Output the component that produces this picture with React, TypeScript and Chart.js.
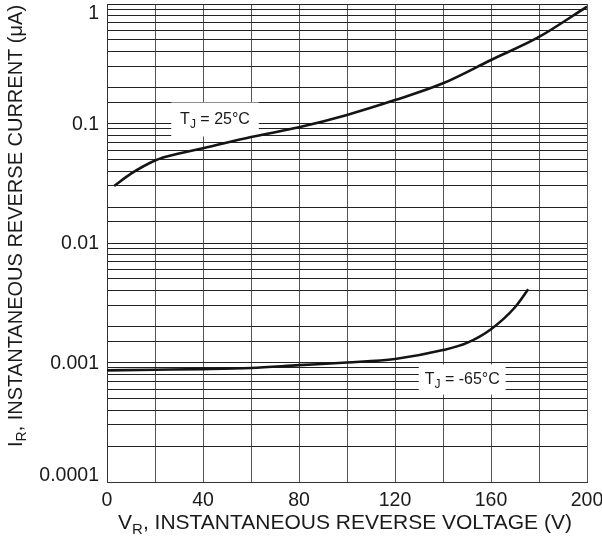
import { useEffect, useRef } from "react";
import { Chart, registerables } from "chart.js";

Chart.register(...registerables);

// ---- Data ----
const voltage25 = [3, 10, 20, 25, 30, 40, 60, 80, 100, 120, 140, 160, 180, 200];
const current25 = [0.03, 0.038, 0.049, 0.053, 0.056, 0.062, 0.077, 0.093, 0.118, 0.157, 0.217, 0.34, 0.53, 0.95];

const voltageM65 = [0, 20, 40, 60, 80, 100, 120, 140, 150, 160, 170, 175.5];
const currentM65 = [0.00086, 0.00087, 0.00088, 0.0009, 0.00095, 0.001, 0.00107, 0.00127, 0.00146, 0.0019, 0.0029, 0.0041];

const xTickLabels = ["0", "40", "80", "120", "160", "200"];
const xTickValues = [0, 40, 80, 120, 160, 200];
const yTickLabels = ["0.0001", "0.001", "0.01", "0.1", "1"];
const yTickValues = [0.0001, 0.001, 0.01, 0.1, 1];

const xTitle = { main: "V", sub: "R", rest: ", INSTANTANEOUS REVERSE VOLTAGE (V)" };
const yTitle = { main: "I", sub: "R", rest: ", INSTANTANEOUS REVERSE CURRENT (\u03bcA)" };

const curveLabels = [
  { main: "T", sub: "J", rest: " = 25\u00b0C", x: 45, y: 0.108 },
  { main: "T", sub: "J", rest: " = -65\u00b0C", x: 148, y: 0.00072 },
];

const FONT = "'Liberation Sans', Arial, Helvetica, sans-serif";
const TEXT = "#1a1a1a";

function drawSubText(ctx: CanvasRenderingContext2D, x: number, y: number, t: { main: string; sub: string; rest: string }, size: number, align: "left" | "center") {
  const big = `${size}px ${FONT}`;
  const small = `${Math.round(size * 0.72)}px ${FONT}`;
  ctx.font = big;
  const w1 = ctx.measureText(t.main).width;
  const w3 = ctx.measureText(t.rest).width;
  ctx.font = small;
  const w2 = ctx.measureText(t.sub).width;
  const total = w1 + w2 + w3;
  const sx = align === "center" ? x - total / 2 : x;
  ctx.textAlign = "left";
  ctx.textBaseline = "middle";
  ctx.font = big;
  ctx.fillText(t.main, sx, y);
  ctx.font = small;
  ctx.fillText(t.sub, sx + w1, y + size * 0.32);
  ctx.font = big;
  ctx.fillText(t.rest, sx + w1 + w2, y);
  return total;
}

const decorPlugin = {
  id: "decor",
  beforeDatasetsDraw(chart: any) {
    const ctx: CanvasRenderingContext2D = chart.ctx;
    const xs = chart.scales.x;
    const ys = chart.scales.y;
    ctx.save();
    curveLabels.forEach((lab, i) => {
      const px = xs.getPixelForValue(lab.x);
      const py = ys.getPixelForValue(lab.y);
      const size = 16;
      ctx.font = `${size}px ${FONT}`;
      const w = ctx.measureText(lab.main + lab.rest).width + ctx.measureText(lab.sub).width * 0.72;
      const bw = w + (i === 0 ? 18 : 12);
      const bh = i === 0 ? 34 : 30;
      ctx.fillStyle = "#ffffff";
      ctx.fillRect(px - bw / 2, py - bh / 2, bw, bh);
      ctx.fillStyle = TEXT;
      drawSubText(ctx, px, py, lab, size, "center");
    });
    ctx.restore();
  },
  afterDraw(chart: any) {
    const ctx: CanvasRenderingContext2D = chart.ctx;
    const area = chart.chartArea;
    const ys = chart.scales.y;
    ctx.save();
    ctx.fillStyle = TEXT;
    // y tick labels (kept inside the plot's vertical span like the reference)
    ctx.font = `19.5px ${FONT}`;
    ctx.textAlign = "right";
    ctx.textBaseline = "middle";
    yTickValues.forEach((v, i) => {
      let py = ys.getPixelForValue(v);
      py = Math.min(Math.max(py, area.top + 9), area.bottom - 7);
      ctx.fillText(yTickLabels[i], area.left - 8, py + 1);
    });
    // x title
    drawSubText(ctx, 345, 523, xTitle, 21, "center");
    // y title
    ctx.translate(16, 447);
    ctx.rotate(-Math.PI / 2);
    drawSubText(ctx, 0, 0, yTitle, 20, "left");
    ctx.restore();
  },
};

export default function App() {
  const ref = useRef<HTMLCanvasElement | null>(null);
  useEffect(() => {
    if (!ref.current) return;
    const chart = new Chart(ref.current, {
      type: "line",
      data: {
        datasets: [
          {
            label: "TJ = 25°C",
            data: voltage25.map((v, i) => ({ x: v, y: current25[i] })),
            borderColor: "#141414",
            borderWidth: 2.6,
            pointRadius: 0,
            cubicInterpolationMode: "monotone",
            fill: false,
          },
          {
            label: "TJ = -65°C",
            data: voltageM65.map((v, i) => ({ x: v, y: currentM65[i] })),
            borderColor: "#141414",
            borderWidth: 2.6,
            pointRadius: 0,
            cubicInterpolationMode: "monotone",
            fill: false,
          },
        ],
      },
      options: {
        animation: false,
        responsive: false,
        maintainAspectRatio: false,
        events: [],
        layout: { padding: { left: 0, right: 15, top: 4, bottom: 0 } },
        plugins: { legend: { display: false }, tooltip: { enabled: false }, title: { display: false } },
        scales: {
          x: {
            type: "linear",
            min: 0,
            max: 200,
            border: { display: true, color: "#333", width: 1 },
            grid: { color: "#555", lineWidth: 1, drawTicks: false },
            ticks: {
              stepSize: 20,
              autoSkip: false,
              maxRotation: 0,
              padding: 7,
              color: TEXT,
              font: { family: FONT, size: 19.5 },
              callback: (v: any) => {
                const idx = xTickValues.indexOf(Number(v));
                return idx >= 0 ? xTickLabels[idx] : "";
              },
            },
            afterFit: (s: any) => {
              s.height = 60;
              s.paddingLeft = 0;
              s.paddingRight = 0;
            },
          },
          y: {
            type: "logarithmic",
            min: 0.0001,
            max: 1,
            border: { display: true, color: "#333", width: 1 },
            grid: { color: "#222", lineWidth: 1, drawTicks: false },
            ticks: {
              autoSkip: false,
              padding: 8,
              color: "rgba(0,0,0,0)",
              font: { family: FONT, size: 19.5 },
              callback: (v: any) => {
                const n = Number(v);
                const idx = yTickValues.findIndex((t) => Math.abs(t - n) / t < 1e-6);
                return idx >= 0 ? yTickLabels[idx] : "";
              },
            },
            afterFit: (s: any) => {
              s.width = 107;
              s.paddingTop = 0;
              s.paddingBottom = 0;
            },
          },
        },
      },
      plugins: [decorPlugin],
    } as any);
    return () => chart.destroy();
  }, []);
  return (
    <div style={{ position: "absolute", left: 0, top: 0, width: 602, height: 542, background: "#fff" }}>
      <canvas ref={ref} width={602} height={542} style={{ width: 602, height: 542 }} />
    </div>
  );
}
